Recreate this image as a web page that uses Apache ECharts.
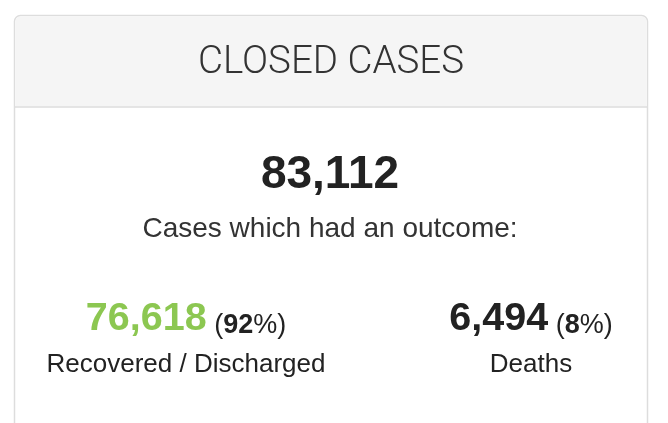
<!DOCTYPE html>
<html>
<head>
<meta charset="utf-8">
<script src="https://cdn.jsdelivr.net/npm/echarts@6/dist/echarts.min.js"></script>
<style>
html,body{margin:0;padding:0;background:#fff;}
#chart{width:668px;height:423px;}
</style>
</head>
<body>
<div id="chart"></div>
<script>
// ---- data ----
const panelTitle = 'CLOSED CASES';
const totalClosed = 83112;
const subtitleText = 'Cases which had an outcome:';
const outcomeLabels = ['Recovered / Discharged', 'Deaths'];
const outcomeValues = [76618, 6494];
const outcomePercents = [92, 8];

// ---- layout / style ----
const FONT = '"Liberation Sans", Arial, Helvetica, sans-serif';
const numColors = ['#8cc751', '#222222'];
const colX = [186, 531];
const fmt = v => v.toLocaleString('en-US');

const chart = echarts.init(document.getElementById('chart'), null, {renderer: 'canvas'});

const elements = [
  // card body
  {type: 'rect', shape: {x: 14.5, y: 15.5, width: 633, height: 440, r: [6, 6, 0, 0]},
   style: {fill: '#ffffff', stroke: '#dddddd', lineWidth: 1.5}, z: 1},
  // header
  {type: 'rect', shape: {x: 15.5, y: 16.5, width: 631, height: 90, r: [5, 5, 0, 0]},
   style: {fill: '#f5f5f5'}, z: 2},
  {type: 'line', shape: {x1: 15, y1: 107, x2: 647, y2: 107},
   style: {stroke: '#dddddd', lineWidth: 1.5}, z: 3},
  {type: 'text', x: 331, y: 63, z: 4,
   style: {text: panelTitle, fill: '#333333', fontFamily: 'Roboto', fontWeight: 300,
           fontSize: 38.5, textAlign: 'center', textVerticalAlign: 'middle'}},
  {type: 'text', x: 330, y: 175, z: 4,
   style: {text: fmt(totalClosed), fill: '#222222', fontFamily: FONT, fontWeight: 'bold',
           fontSize: 46, textAlign: 'center', textVerticalAlign: 'middle'}},
  {type: 'text', x: 330, y: 229, z: 4,
   style: {text: subtitleText, fill: '#333333', fontFamily: FONT,
           fontSize: 28, textAlign: 'center', textVerticalAlign: 'middle'}}
];

outcomeValues.forEach((v, i) => {
  elements.push({
    type: 'text', x: colX[i], y: 319, z: 4,
    style: {
      text: '{n|' + fmt(v) + '}{p| (}{b|' + outcomePercents[i] + '}{p|%)}',
      textAlign: 'center', textVerticalAlign: 'middle',
      fontFamily: FONT,
      rich: {
        n: {fontFamily: FONT, fontWeight: 'bold', fontSize: 39.5, lineHeight: 39.5,
            fill: numColors[i], verticalAlign: 'bottom'},
        p: {fontFamily: FONT, fontSize: 27, lineHeight: 31, fill: '#222222', verticalAlign: 'bottom'},
        b: {fontFamily: FONT, fontWeight: 'bold', fontSize: 27, lineHeight: 31, fill: '#222222', verticalAlign: 'bottom'}
      }
    }
  });
  elements.push({
    type: 'text', x: colX[i], y: 365, z: 4,
    style: {text: outcomeLabels[i], fill: '#222222', fontFamily: FONT,
            fontSize: 26, textAlign: 'center', textVerticalAlign: 'middle'}
  });
});

chart.setOption({
  backgroundColor: '#ffffff',
  animation: false,
  graphic: {elements: elements}
});
</script>
</body>
</html>
